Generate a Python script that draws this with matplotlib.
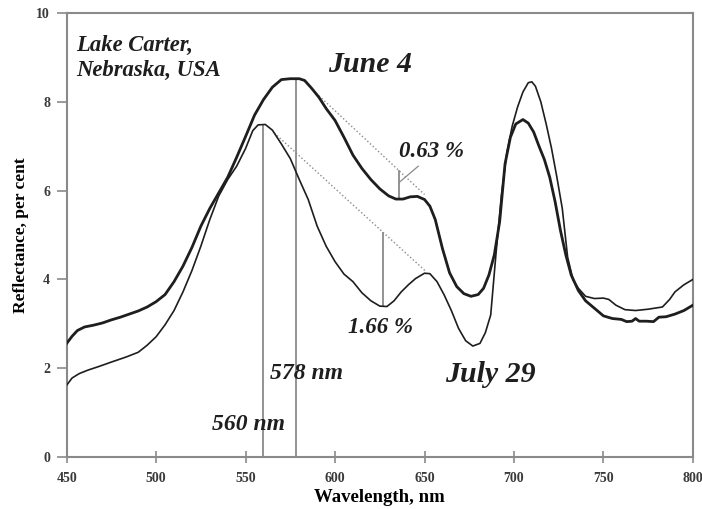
import matplotlib
matplotlib.use('Agg')
import matplotlib.pyplot as plt
import numpy as np

plt.rcParams['font.family'] = ['Liberation Serif', 'DejaVu Serif']

# June 4 spectrum (thick line)
june_wl = [450, 453, 456, 460, 465, 470, 475, 480, 485, 490, 495, 500, 505, 510, 515,
           520, 525, 530, 535, 540, 545, 550, 555, 560, 565, 570, 575, 580, 583, 587,
           591, 595, 600, 605, 610, 615, 620, 625, 630, 634, 638, 642, 646, 650, 653,
           656, 660, 664, 668, 672, 676, 680, 683, 686, 689, 692, 695, 698, 701, 705,
           708, 711, 714, 717, 720, 723, 726, 729, 732, 736, 740, 745, 750, 755, 760,
           763, 766, 768, 770, 774, 778, 781, 785, 790, 795, 800]
june_r = [2.56, 2.72, 2.85, 2.93, 2.97, 3.02, 3.09, 3.15, 3.22, 3.29, 3.38, 3.50, 3.66, 3.95, 4.30,
          4.72, 5.20, 5.60, 5.95, 6.30, 6.75, 7.22, 7.70, 8.05, 8.33, 8.50, 8.52, 8.52, 8.48, 8.30,
          8.10, 7.85, 7.58, 7.20, 6.80, 6.50, 6.25, 6.04, 5.88, 5.81, 5.81, 5.86, 5.87, 5.80, 5.65,
          5.35, 4.70, 4.15, 3.84, 3.68, 3.62, 3.66, 3.80, 4.10, 4.55, 5.30, 6.60, 7.20, 7.50, 7.60,
          7.52, 7.32, 7.00, 6.70, 6.30, 5.75, 5.10, 4.55, 4.10, 3.75, 3.52, 3.35, 3.18, 3.12, 3.10,
          3.05, 3.06, 3.12, 3.06, 3.06, 3.05, 3.15, 3.16, 3.22, 3.30, 3.42]

# July 29 spectrum (thin line)
july_wl = [450, 453, 457, 462, 468, 475, 483, 490, 495, 500, 505, 510, 515, 520, 525,
           530, 535, 540, 545, 550, 554, 557, 561, 565, 570, 575, 580, 585, 590, 595,
           600, 605, 610, 615, 620, 625, 629, 633, 637, 641, 645, 650, 653, 657, 661,
           665, 669, 673, 677, 681, 684, 687, 690, 693, 696, 699, 702, 705, 708, 710,
           712, 715, 718, 721, 724, 727, 730, 733, 736, 740, 745, 750, 753, 757, 762,
           768, 775, 783, 787, 790, 795, 800]
july_r = [1.62, 1.78, 1.88, 1.96, 2.04, 2.14, 2.25, 2.36, 2.52, 2.71, 2.98, 3.30, 3.72, 4.20, 4.75,
          5.35, 5.88, 6.25, 6.55, 6.95, 7.35, 7.48, 7.49, 7.36, 7.05, 6.72, 6.25, 5.80, 5.20, 4.75,
          4.40, 4.12, 3.95, 3.70, 3.52, 3.40, 3.39, 3.52, 3.72, 3.88, 4.02, 4.14, 4.13, 3.95, 3.65,
          3.30, 2.90, 2.62, 2.50, 2.56, 2.80, 3.20, 4.60, 5.90, 6.85, 7.45, 7.88, 8.22, 8.43, 8.45,
          8.35, 8.00, 7.50, 6.95, 6.30, 5.60, 4.50, 3.99, 3.80, 3.62, 3.57, 3.58, 3.55, 3.42, 3.32,
          3.30, 3.33, 3.38, 3.55, 3.72, 3.88, 4.00]

# green peak positions and trough depths
peak_july, peak_june = 560, 578
depth_june, depth_june_wl = 0.63, 636
depth_july, depth_july_wl = 1.66, 627
xticks = [450, 500, 550, 600, 650, 700, 750, 800]
yticks = [0, 2, 4, 6, 8, 10]

fig = plt.figure(figsize=(7.02, 5.09), dpi=100)
ax = fig.add_axes([0.095, 0.102, 0.892, 0.8725])

ink = '#1e1e1e'
grey = '#8a8a8a'

ax.plot(june_wl, june_r, color=ink, lw=2.0, zorder=3)
ax.plot(july_wl, july_r, color=ink, lw=1.2, zorder=3)

# vertical markers at the green peaks
ax.plot([peak_july, peak_july], [0, np.interp(peak_july, july_wl, july_r)], color=grey, lw=1.3)
ax.plot([peak_june, peak_june], [0, np.interp(peak_june, june_wl, june_r)], color=grey, lw=1.3)

# baselines from the peak to the 650 nm shoulder, and the depth below them
j_low = np.interp(depth_june_wl, june_wl, june_r)
j_top = j_low + depth_june
x0, y0 = 588, np.interp(588, june_wl, june_r)
slope = (j_top - y0) / (depth_june_wl - x0)
ax.plot([x0, 650], [y0, y0 + slope * (650 - x0)], color=grey, lw=1.0, ls=':')
ax.plot([depth_june_wl, depth_june_wl], [j_low, j_top], color=grey, lw=1.3)
ax.plot([depth_june_wl, 646.5], [j_low + 0.38, 6.55], color=grey, lw=0.9)

k_low = np.interp(depth_july_wl, july_wl, july_r)
k_top = k_low + depth_july
x1, y1 = 566, np.interp(566, july_wl, july_r)
slope = (k_top - y1) / (depth_july_wl - x1)
ax.plot([x1, 651], [y1, y1 + slope * (651 - x1)], color=grey, lw=1.0, ls=':')
ax.plot([depth_july_wl, depth_july_wl], [k_low, k_top], color=grey, lw=1.3)

tf = dict(style='italic', weight='bold', color=ink)
ax.text(455.5, 9.5, 'Lake Carter,\nNebraska, USA', fontsize=16.3, va='top', ha='left',
        linespacing=1.25, **tf)
ax.text(619.5, 8.67, 'June 4', fontsize=21.5, ha='center', va='baseline', **tf)
ax.text(687, 1.69, 'July 29', fontsize=21.5, ha='center', va='baseline', **tf)
ax.text(584, 1.76, '578 nm', fontsize=17, ha='center', va='baseline', **tf)
ax.text(551.5, 0.61, '560 nm', fontsize=17, ha='center', va='baseline', **tf)
ax.text(607.5, 2.79, '1.66 %', fontsize=16.5, ha='left', va='baseline', **tf)
ax.text(635.5, 6.76, '0.63 %', fontsize=16.5, ha='left', va='baseline', **tf)

ax.set_xlim(450, 800)
ax.set_ylim(0, 10)
ax.set_xticks(xticks)
ax.set_yticks(yticks)
ax.tick_params(axis='x', direction='inout', length=9, width=1.2, color=grey,
               labelsize=10, labelcolor='#3a3a3a', pad=6)
ax.tick_params(axis='y', direction='out', length=7, width=1.2, color=grey,
               labelsize=10, labelcolor='#3a3a3a', pad=5)
for lab in ax.get_xticklabels() + ax.get_yticklabels():
    lab.set_fontweight('bold')
for sp in ax.spines.values():
    sp.set_color(grey)
    sp.set_linewidth(1.5)

ax.set_xlabel('Wavelength, nm', fontsize=13.5, fontweight='bold', labelpad=3)
ax.set_ylabel('Reflectance, per cent', fontsize=12.5, fontweight='bold', labelpad=5)

fig.savefig('out.png', dpi=100)
